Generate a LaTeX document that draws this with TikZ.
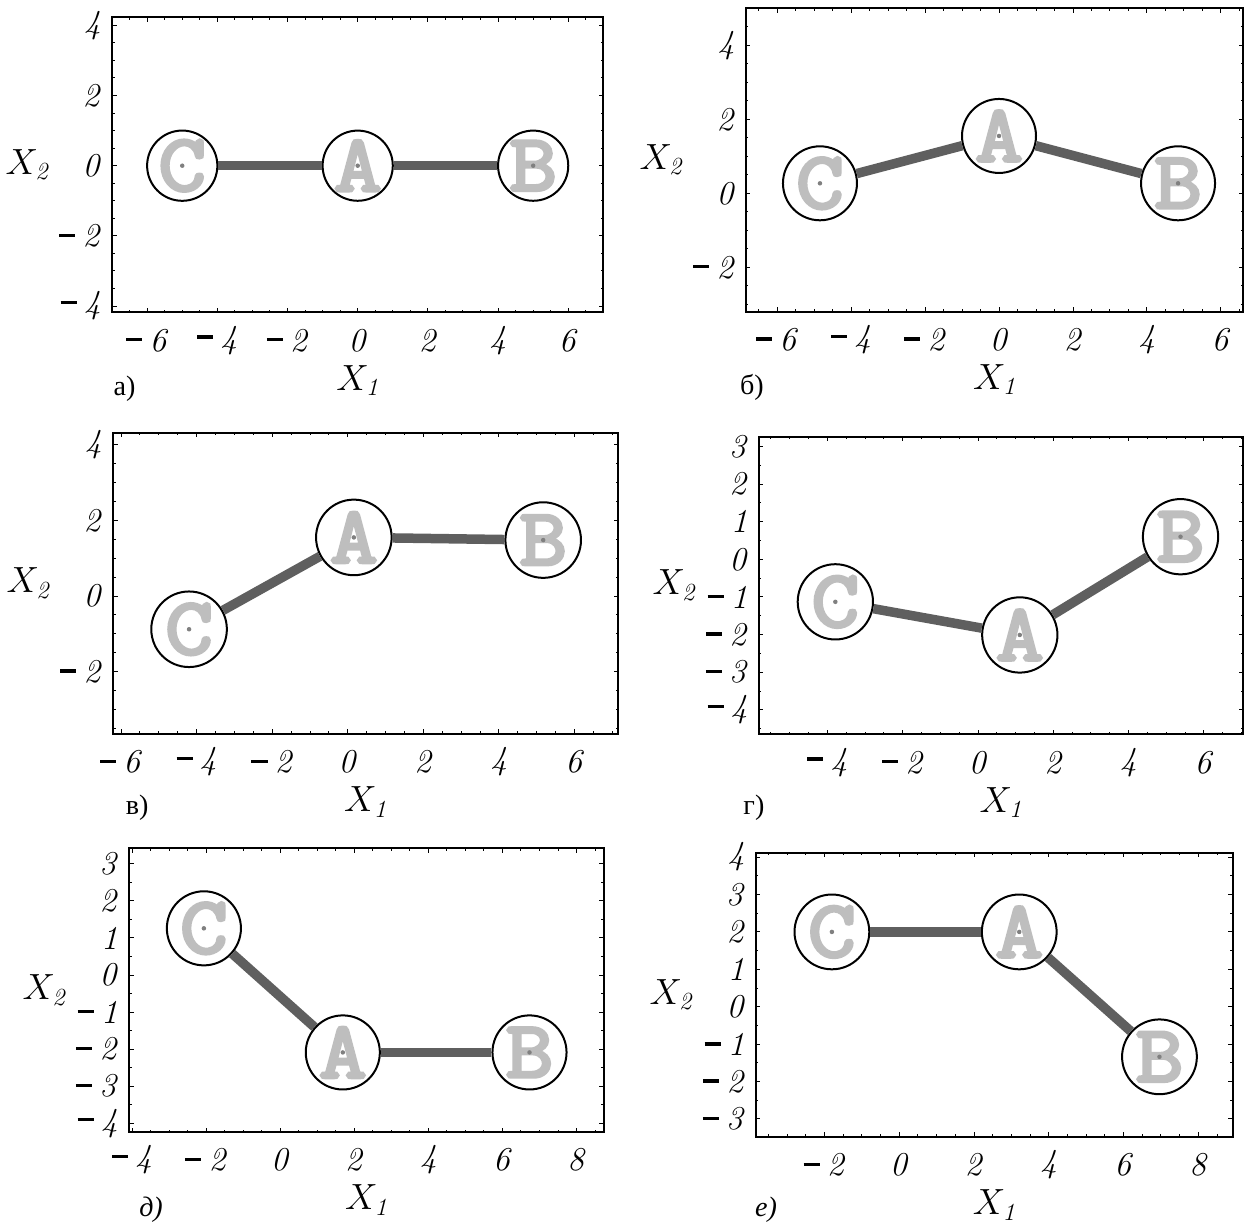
\documentclass[tikz,border=0pt]{standalone}
\usepackage{fontspec}
\newfontfamily\cyrfont{Liberation Serif}
\newfontfamily\ballfont{Latin Modern Mono}[FakeBold=4, FakeStretch=1.15]

\definecolor{rodgray}{RGB}{95,95,95}
\definecolor{lettergray}{RGB}{190,190,190}
\definecolor{dotgray}{RGB}{128,128,128}

% tick label: thick minus set apart from the italic digit
\newcommand{\ticklbl}[1]{\ifnum#1<0 \rule[0.29em]{0.48em}{0.1em}\hspace{0.22em}\textit{\number-#1}\else\textit{#1}\fi}

% frame with ticks and labels: name, xmin, xmax, ymin, ymax, x labels, y labels, y label step
\newcommand{\plotaxes}[8]{%
  \draw[boxframe] (#2,#4) rectangle (#3,#5);
  \foreach \kk in {-20,...,20}{%
    \pgfmathsetmacro\tv{\kk/2}%
    \pgfmathtruncatemacro\inx{and(\tv>#2,\tv<#3)}%
    \pgfmathtruncatemacro\iny{and(\tv>#4,\tv<#5)}%
    \pgfmathtruncatemacro\majx{mod(\kk,4)==0}%
    \pgfmathtruncatemacro\majy{mod(\kk,2*#8)==0}%
    \ifnum\majx=1 \def\lx{0.09cm}\else\def\lx{0.05cm}\fi
    \ifnum\majy=1 \def\ly{0.09cm}\else\def\ly{0.05cm}\fi
    \ifnum\inx=1
      \draw[ticmark] (\tv,#4) -- ++(0,\lx) (\tv,#5) -- ++(0,-\lx);
    \fi
    \ifnum\iny=1
      \draw[ticmark] (#2,\tv) -- ++(\ly,0) (#3,\tv) -- ++(-\ly,0);
    \fi
  }
  \foreach \v in {#6} \node[tlbl, yshift=-0.56cm] (#1x\v) at (\v,#4) {\ticklbl{\v}};
  \foreach \v in {#7} \node[tlbl, anchor=east, xshift=-0.22cm] (#1y\v) at (#2,\v) {\ticklbl{\v}};
  \node[axlbl, yshift=-1.36cm] (#1xl) at ({(#2+#3)/2},#4) {$X_{\mathit{1}}$};
  \node[axlbl, xshift=-1.7cm] (#1yl) at (#2,{(#4+#5)/2}) {$X_{\mathit{2}}$};
}

\begin{document}
\begin{tikzpicture}[
    x=0.02cm, y=0.02cm,
    boxframe/.style={line width=0.04cm},
    ticmark/.style={line width=0.02cm},
    tlbl/.style={inner sep=0pt, font=\fontsize{19}{22}\selectfont},
    axlbl/.style={inner sep=0pt, font=\fontsize{20}{24}\selectfont},
    plbl/.style={inner sep=0pt, font=\cyrfont\fontsize{16}{19}\selectfont},
    ball/.style={circle, draw, line width=0.04cm, fill=white, inner sep=0pt, minimum size=#1,
        text=lettergray, font=\ballfont\fontsize{46}{50}\selectfont},
    rod/.style={draw=rodgray, line width=0.19cm},
    cdot/.style={fill=dotgray}
]
    \useasboundingbox (0,0) rectangle (1246,1225);

    % a)
    \begin{scope}[shift={(357.7,1059.3)}, x=0.702cm, y=0.702cm]
        \plotaxes{a}{-7}{7}{-4.18}{4.23}{-6,-4,...,6}{-4,-2,...,4}{2}
        \node[ball=1.404cm] (aC) at (-5,0) {C};
        \node[ball=1.404cm] (aA) at (0,0) {A};
        \node[ball=1.404cm] (aB) at (5,0) {B};
        \draw[rod] (aC) -- (aA);
        \draw[rod] (aA) -- (aB);
        \foreach \n in {aC,aA,aB} \fill[cdot] (\n.center) circle (0.045cm);
        \node[plbl, xshift=0.25cm, yshift=-1.52cm] (alb) at (-7,-4.18) {а)};
    \end{scope}

    % b)
    \begin{scope}[shift={(999,1031.7)}, x=0.74cm, y=0.74cm]
        \plotaxes{b}{-6.84}{6.6}{-3.2}{5.0}{-6,-4,...,6}{-2,0,2,4}{2}
        \node[ball=1.48cm] (bC) at (-4.84,0.27) {C};
        \node[ball=1.48cm] (bA) at (0,1.55) {A};
        \node[ball=1.48cm] (bB) at (4.84,0.27) {B};
        \draw[rod] (bC) -- (bA);
        \draw[rod] (bA) -- (bB);
        \foreach \n in {bC,bA,bB} \fill[cdot] (\n.center) circle (0.045cm);
        \node[plbl, xshift=0.12cm, yshift=-1.52cm] (blb) at (-6.84,-3.2) {б)};
    \end{scope}

    % c)
    \begin{scope}[shift={(347.8,629)}, x=0.756cm, y=0.756cm]
        \plotaxes{c}{-6.21}{7.15}{-3.65}{4.32}{-6,-4,...,6}{-2,0,2,4}{2}
        \node[ball=1.512cm] (cC) at (-4.2,-0.88) {C};
        \node[ball=1.512cm] (cA) at (0.16,1.55) {A};
        \node[ball=1.512cm] (cB) at (5.17,1.48) {B};
        \draw[rod] (cC) -- (cA);
        \draw[rod] (cA) -- (cB);
        \foreach \n in {cC,cA,cB} \fill[cdot] (\n.center) circle (0.045cm);
        \node[plbl, xshift=0.48cm, yshift=-1.48cm] (clb) at (-6.21,-3.65) {в)};
    \end{scope}

    % d)
    \begin{scope}[shift={(978,665.7)}, x=0.753cm, y=0.753cm]
        \plotaxes{d}{-5.82}{7.04}{-4.65}{3.26}{-4,-2,...,6}{-4,...,3}{1}
        \node[ball=1.506cm] (dC) at (-3.79,-1.13) {C};
        \node[ball=1.506cm] (dA) at (1.11,-2.01) {A};
        \node[ball=1.506cm] (dB) at (5.38,0.6) {B};
        \draw[rod] (dC) -- (dA);
        \draw[rod] (dA) -- (dB);
        \foreach \n in {dC,dA,dB} \fill[cdot] (\n.center) circle (0.045cm);
        \node[plbl, xshift=-0.1cm, yshift=-1.46cm] (dlb) at (-5.82,-4.65) {г)};
    \end{scope}

    % e)
    \begin{scope}[shift={(280.2,250)}, x=0.741cm, y=0.741cm]
        \plotaxes{e}{-4.08}{8.74}{-4.24}{3.42}{-4,-2,...,8}{-4,...,3}{1}
        \node[ball=1.482cm] (eC) at (-2.06,1.26) {C};
        \node[ball=1.482cm] (eA) at (1.69,-2.09) {A};
        \node[ball=1.482cm] (eB) at (6.73,-2.09) {B};
        \draw[rod] (eC) -- (eA);
        \draw[rod] (eA) -- (eB);
        \foreach \n in {eC,eA,eB} \fill[cdot] (\n.center) circle (0.045cm);
        \node[plbl, font=\cyrfont\itshape\fontsize{16}{19}\selectfont, xshift=0.44cm, yshift=-1.56cm] (elb) at (-4.08,-4.24) {д)};
    \end{scope}

    % f)
    \begin{scope}[shift={(899.2,218.3)}, x=0.748cm, y=0.748cm]
        \plotaxes{f}{-3.83}{8.92}{-3.48}{4.12}{-2,0,...,8}{-3,...,4}{1}
        \node[ball=1.496cm] (fC) at (-1.8,2) {C};
        \node[ball=1.496cm] (fA) at (3.21,2) {A};
        \node[ball=1.496cm] (fB) at (6.96,-1.34) {B};
        \draw[rod] (fC) -- (fA);
        \draw[rod] (fA) -- (fB);
        \foreach \n in {fC,fA,fB} \fill[cdot] (\n.center) circle (0.045cm);
        \node[plbl, font=\cyrfont\itshape\fontsize{16}{19}\selectfont, xshift=0.2cm, yshift=-1.46cm] (flb) at (-3.83,-3.48) {е)};
    \end{scope}
\end{tikzpicture}
\end{document}
